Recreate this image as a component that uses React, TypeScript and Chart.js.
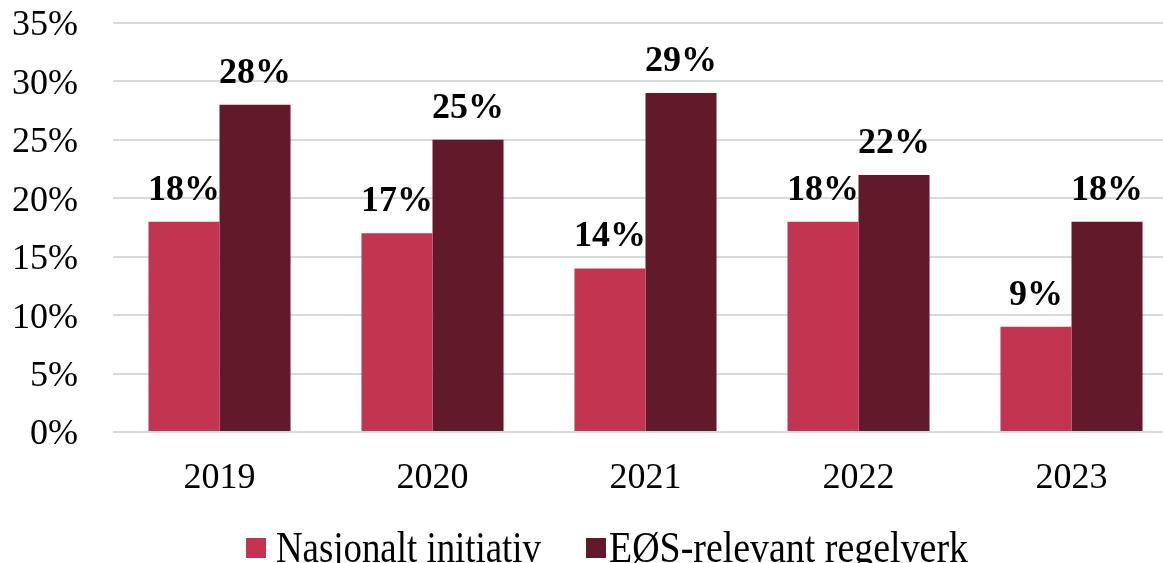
import React, { useEffect, useRef } from "react";
import { Chart, registerables } from "chart.js";

Chart.register(...registerables);

const categories = ["2019", "2020", "2021", "2022", "2023"];
const seriesNames = ["Nasjonalt initiativ", "EØS-relevant regelverk"];
const nasjonalt = [18, 17, 14, 18, 9];
const eos = [28, 25, 29, 22, 18];
const colors = ["#C33450", "#621A2A"];
const yTicks = [0, 5, 10, 15, 20, 25, 30, 35];

const FONT = "'Liberation Serif', 'Times New Roman', serif";

const dataLabelPlugin = {
  id: "dataLabels",
  afterDatasetsDraw(chart: any) {
    const ctx = chart.ctx;
    ctx.save();
    ctx.font = `bold 36px ${FONT}`;
    ctx.fillStyle = "#000";
    ctx.textAlign = "center";
    ctx.textBaseline = "alphabetic";
    chart.data.datasets.forEach((ds: any, i: number) => {
      const meta = chart.getDatasetMeta(i);
      meta.data.forEach((bar: any, j: number) => {
        ctx.fillText(ds.data[j] + "%", bar.x, bar.y - 22);
      });
    });
    ctx.restore();
  },
};

const legendPlugin = {
  id: "customLegend",
  afterDraw(chart: any) {
    const ctx = chart.ctx;
    const items = [
      { box: 246, text: 276, w: 265 },
      { box: 586, text: 609, w: 359 },
    ];
    ctx.save();
    chart.data.datasets.forEach((ds: any, i: number) => {
      const it = items[i];
      ctx.fillStyle = ds.backgroundColor;
      ctx.fillRect(it.box, 538, 20, 20);
      ctx.save();
      ctx.font = `37px ${FONT}`;
      const mw = ctx.measureText(ds.label).width;
      ctx.translate(it.text, 562);
      ctx.scale(it.w / mw, 1.2);
      ctx.fillStyle = "#000";
      ctx.textAlign = "left";
      ctx.textBaseline = "alphabetic";
      ctx.fillText(ds.label, 0, 0);
      ctx.restore();
    });
    ctx.restore();
  },
};

export default function App() {
  const ref = useRef<HTMLCanvasElement>(null);
  useEffect(() => {
    if (!ref.current) return;
    const chart = new Chart(ref.current, {
      type: "bar",
      data: {
        labels: categories,
        datasets: [
          { label: seriesNames[0], data: nasjonalt, backgroundColor: colors[0] },
          { label: seriesNames[1], data: eos, backgroundColor: colors[1] },
        ],
      },
      options: {
        animation: false,
        responsive: false,
        maintainAspectRatio: false,
        layout: { padding: { left: 12, right: 0, top: 23, bottom: 61 } },
        datasets: {
          bar: { categoryPercentage: 0.667, barPercentage: 1.0 },
        },
        plugins: {
          legend: { display: false },
          tooltip: { enabled: false },
        },
        scales: {
          x: {
            grid: { display: false, drawTicks: false },
            border: { display: false },
            ticks: {
              color: "#000",
              font: { family: FONT, size: 36 },
              padding: 25,
              maxRotation: 0,
            },
            afterFit(axis: any) {
              axis.height = 70;
              axis.paddingLeft = 0;
              axis.paddingRight = 0;
            },
          },
          y: {
            min: 0,
            max: 35,
            afterBuildTicks(axis: any) {
              axis.ticks = yTicks.map((v) => ({ value: v }));
            },
            grid: { color: "#D9D9D9", lineWidth: 2, drawTicks: false },
            border: { display: false },
            ticks: {
              color: "#000",
              font: { family: FONT, size: 36 },
              padding: 35,
              labelOffset: 3,
              callback: (v: any) => v + "%",
            },
            afterFit(axis: any) {
              axis.width = 101;
              axis.paddingTop = 0;
              axis.paddingBottom = 0;
            },
          },
        },
      },
      plugins: [dataLabelPlugin, legendPlugin],
    });
    return () => chart.destroy();
  }, []);
  return (
    <div
      style={{
        position: "absolute",
        left: 0,
        top: 0,
        width: 1163,
        height: 563,
        overflow: "hidden",
        background: "#fff",
      }}
    >
      <canvas ref={ref} width={1178} height={563} style={{ display: "block" }} />
    </div>
  );
}
